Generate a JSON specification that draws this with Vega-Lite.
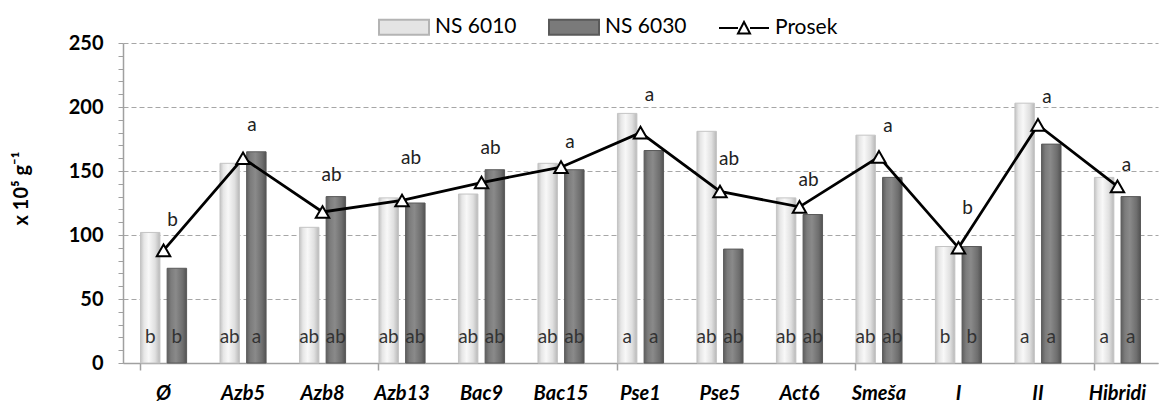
{
  "$schema": "https://vega.github.io/schema/vega-lite/v6.json",
  "width": 1035,
  "height": 320,
  "autosize": {"type": "none"},
  "padding": {"left": 123, "top": 43, "right": 3, "bottom": 41},
  "background": "white",
  "config": {
    "font": "Lato",
    "view": {"stroke": null}
  },
  "datasets": {
    "bars": [
      {"kategorija": "Ø", "serija": "NS 6010", "vrednost": 102, "slovo": "b"},
      {"kategorija": "Ø", "serija": "NS 6030", "vrednost": 74, "slovo": "b"},
      {"kategorija": "Azb5", "serija": "NS 6010", "vrednost": 156, "slovo": "ab"},
      {"kategorija": "Azb5", "serija": "NS 6030", "vrednost": 165, "slovo": "a"},
      {"kategorija": "Azb8", "serija": "NS 6010", "vrednost": 106, "slovo": "ab"},
      {"kategorija": "Azb8", "serija": "NS 6030", "vrednost": 130, "slovo": "ab"},
      {"kategorija": "Azb13", "serija": "NS 6010", "vrednost": 129, "slovo": "ab"},
      {"kategorija": "Azb13", "serija": "NS 6030", "vrednost": 125, "slovo": "ab"},
      {"kategorija": "Bac9", "serija": "NS 6010", "vrednost": 132, "slovo": "ab"},
      {"kategorija": "Bac9", "serija": "NS 6030", "vrednost": 151, "slovo": "ab"},
      {"kategorija": "Bac15", "serija": "NS 6010", "vrednost": 156, "slovo": "ab"},
      {"kategorija": "Bac15", "serija": "NS 6030", "vrednost": 151, "slovo": "ab"},
      {"kategorija": "Pse1", "serija": "NS 6010", "vrednost": 195, "slovo": "a"},
      {"kategorija": "Pse1", "serija": "NS 6030", "vrednost": 166, "slovo": "a"},
      {"kategorija": "Pse5", "serija": "NS 6010", "vrednost": 181, "slovo": "ab"},
      {"kategorija": "Pse5", "serija": "NS 6030", "vrednost": 89, "slovo": "ab"},
      {"kategorija": "Act6", "serija": "NS 6010", "vrednost": 129, "slovo": "ab"},
      {"kategorija": "Act6", "serija": "NS 6030", "vrednost": 116, "slovo": "ab"},
      {"kategorija": "Smeša", "serija": "NS 6010", "vrednost": 178, "slovo": "ab"},
      {"kategorija": "Smeša", "serija": "NS 6030", "vrednost": 145, "slovo": "ab"},
      {"kategorija": "I", "serija": "NS 6010", "vrednost": 91, "slovo": "b"},
      {"kategorija": "I", "serija": "NS 6030", "vrednost": 91, "slovo": "b"},
      {"kategorija": "II", "serija": "NS 6010", "vrednost": 203, "slovo": "a"},
      {"kategorija": "II", "serija": "NS 6030", "vrednost": 171, "slovo": "a"},
      {"kategorija": "Hibridi", "serija": "NS 6010", "vrednost": 145, "slovo": "a"},
      {"kategorija": "Hibridi", "serija": "NS 6030", "vrednost": 130, "slovo": "a"}
    ],
    "prosek": [
      {"kategorija": "Ø", "prosek": 88, "slovo": "b", "oznakaY": 112},
      {"kategorija": "Azb5", "prosek": 160, "slovo": "a", "oznakaY": 186},
      {"kategorija": "Azb8", "prosek": 118, "slovo": "ab", "oznakaY": 147},
      {"kategorija": "Azb13", "prosek": 127, "slovo": "ab", "oznakaY": 160},
      {"kategorija": "Bac9", "prosek": 141, "slovo": "ab", "oznakaY": 168},
      {"kategorija": "Bac15", "prosek": 153, "slovo": "a", "oznakaY": 173},
      {"kategorija": "Pse1", "prosek": 180, "slovo": "a", "oznakaY": 209},
      {"kategorija": "Pse5", "prosek": 134, "slovo": "ab", "oznakaY": 159},
      {"kategorija": "Act6", "prosek": 122, "slovo": "ab", "oznakaY": 143},
      {"kategorija": "Smeša", "prosek": 161, "slovo": "a", "oznakaY": 185},
      {"kategorija": "I", "prosek": 90, "slovo": "b", "oznakaY": 121},
      {"kategorija": "II", "prosek": 186, "slovo": "a", "oznakaY": 208},
      {"kategorija": "Hibridi", "prosek": 138, "slovo": "a", "oznakaY": 155}
    ]
  },
  "resolve": {"axis": {"x": "independent", "y": "independent"}},
  "layer": [
    {
      "data": {"name": "bars"},
      "transform": [{"filter": "datum.serija === 'NS 6010'"}],
      "mark": {
        "type": "bar",
        "strokeWidth": 1,
        "stroke": "#c4c4c4",
        "fill": {"gradient": "linear", "x1": 0, "x2": 1, "y1": 0, "y2": 0,
          "stops": [
            {"offset": 0, "color": "#c2c2c2"},
            {"offset": 0.18, "color": "#e6e6e6"},
            {"offset": 0.42, "color": "#f8f8f8"},
            {"offset": 0.75, "color": "#e0e0e0"},
            {"offset": 1, "color": "#b8b8b8"}
          ]}
      },
      "encoding": {
        "x": {
          "field": "kategorija",
          "type": "nominal",
          "sort": null,
          "scale": {"paddingInner": 0.42, "paddingOuter": 0.22},
          "axis": {
            "orient": "bottom",
            "title": null,
            "labelAngle": 0,
            "labelFont": "Lato",
            "labelFontSize": 20,
            "labelFontWeight": "bold",
            "labelFontStyle": "italic",
            "labelColor": "#000000",
            "labelPadding": 20,
            "domainColor": "#a0a0a0",
            "domainWidth": 1.5,
            "ticks": false
          }
        },
        "xOffset": {"field": "serija", "type": "nominal", "scale": {"domain": ["NS 6010", "NS 6030"], "paddingInner": 0.27, "paddingOuter": 0}},
        "y": {
          "field": "vrednost",
          "type": "quantitative",
          "scale": {"domain": [0, 250], "nice": false},
          "axis": {
            "orient": "left",
            "title": "x 10⁵ g⁻¹",
            "titleFont": "Lato",
            "titleFontSize": 20,
            "titleFontWeight": "bold",
            "titleColor": "#000000",
            "titlePadding": 37,
            "titleY": 145,
            "values": [0, 50, 100, 150, 200, 250],
            "labelFont": "Lato",
            "labelFontSize": 20,
            "labelFontWeight": "bold",
            "labelColor": "#000000",
            "labelPadding": 15,
            "tickSize": 5,
            "tickColor": "#a0a0a0",
            "domainColor": "#a0a0a0",
            "domainWidth": 1.5,
            "grid": true,
            "gridColor": "#a6a6a6",
            "gridDash": [5, 3]
          }
        }
      }
    },
    {
      "data": {"name": "bars"},
      "transform": [{"filter": "datum.serija === 'NS 6030'"}],
      "mark": {
        "type": "bar",
        "strokeWidth": 1,
        "stroke": "#5a5a5a",
        "fill": {"gradient": "linear", "x1": 0, "x2": 1, "y1": 0, "y2": 0,
          "stops": [
            {"offset": 0, "color": "#5e5e5e"},
            {"offset": 0.2, "color": "#7c7c7c"},
            {"offset": 0.45, "color": "#8a8a8a"},
            {"offset": 0.8, "color": "#6e6e6e"},
            {"offset": 1, "color": "#525252"}
          ]}
      },
      "encoding": {
        "x": {
          "field": "kategorija",
          "type": "nominal",
          "sort": null,
          "axis": {
            "orient": "bottom",
            "title": null,
            "values": ["Ø", "Azb13", "Pse1", "Smeša", "Hibridi"],
            "bandPosition": 0,
            "labels": false,
            "domain": false,
            "ticks": true,
            "tickSize": 7,
            "tickColor": "#a0a0a0",
            "tickWidth": 1.5
          }
        },
        "xOffset": {"field": "serija", "type": "nominal"},
        "y": {
          "field": "vrednost",
          "type": "quantitative",
          "axis": {
            "orient": "left",
            "title": null,
            "values": [10, 20, 30, 40, 60, 70, 80, 90, 110, 120, 130, 140, 160, 170, 180, 190, 210, 220, 230, 240],
            "labels": false,
            "domain": false,
            "grid": false,
            "tickSize": 5,
            "tickColor": "#a0a0a0"
          }
        }
      }
    },
    {
      "data": {"name": "bars"},
      "mark": {"type": "text", "font": "Lato", "fontSize": 19, "color": "#333333", "baseline": "middle"},
      "encoding": {
        "x": {"field": "kategorija", "type": "nominal", "sort": null, "axis": null},
        "xOffset": {"field": "serija", "type": "nominal"},
        "y": {"datum": 20, "axis": null},
        "text": {"field": "slovo"}
      }
    },
    {
      "data": {"name": "prosek"},
      "mark": {"type": "line", "color": "#000000", "strokeWidth": 2.8},
      "encoding": {
        "x": {"field": "kategorija", "type": "nominal", "sort": null, "axis": null},
        "y": {"field": "prosek", "type": "quantitative", "axis": null}
      }
    },
    {
      "data": {"name": "prosek"},
      "mark": {"type": "point", "shape": "triangle-up", "filled": true, "fill": "#ffffff", "stroke": "#000000", "strokeWidth": 2, "size": 180, "opacity": 1},
      "encoding": {
        "x": {"field": "kategorija", "type": "nominal", "sort": null, "axis": null},
        "y": {"field": "prosek", "type": "quantitative", "axis": null}
      }
    },
    {
      "data": {"name": "prosek"},
      "mark": {"type": "text", "font": "Lato", "fontSize": 19, "color": "#222222", "baseline": "middle", "dx": 9},
      "encoding": {
        "x": {"field": "kategorija", "type": "nominal", "sort": null, "axis": null},
        "y": {"field": "oznakaY", "type": "quantitative", "axis": null},
        "text": {"field": "slovo"}
      }
    },
    {
      "data": {"name": "bars"},
      "transform": [{"filter": "false"}],
      "mark": {"type": "point", "filled": true, "opacity": 1, "strokeWidth": 2},
      "encoding": {
        "shape": {
          "field": "serija",
          "type": "nominal",
          "scale": {"domain": ["NS 6010", "NS 6030", "Prosek"], "range": ["M-1,-0.3H1V0.3H-1Z", "M-1,-0.3H1V0.3H-1Z", "M-1,0H-0.24M0.24,0H1M-0.24,0.22L0,-0.24L0.24,0.22Z"]},
          "legend": {
            "title": null,
            "orient": "none",
            "direction": "horizontal",
            "legendX": 255,
            "legendY": -42,
            "labelFont": "Lato",
            "labelFontSize": 21,
            "labelColor": "#000000",
            "labelOffset": 5,
            "columnPadding": 28,
            "symbolSize": 2500,
            "symbolOpacity": 1,
            "symbolStrokeWidth": 2
          }
        },
        "fill": {
          "field": "serija",
          "type": "nominal",
          "scale": {"domain": ["NS 6010", "NS 6030", "Prosek"], "range": ["#e4e4e4", "#7a7a7a", "#ffffff"]}
        },
        "stroke": {
          "field": "serija",
          "type": "nominal",
          "scale": {"domain": ["NS 6010", "NS 6030", "Prosek"], "range": ["#b4b4b4", "#5a5a5a", "#000000"]}
        }
      }
    }
  ]
}
